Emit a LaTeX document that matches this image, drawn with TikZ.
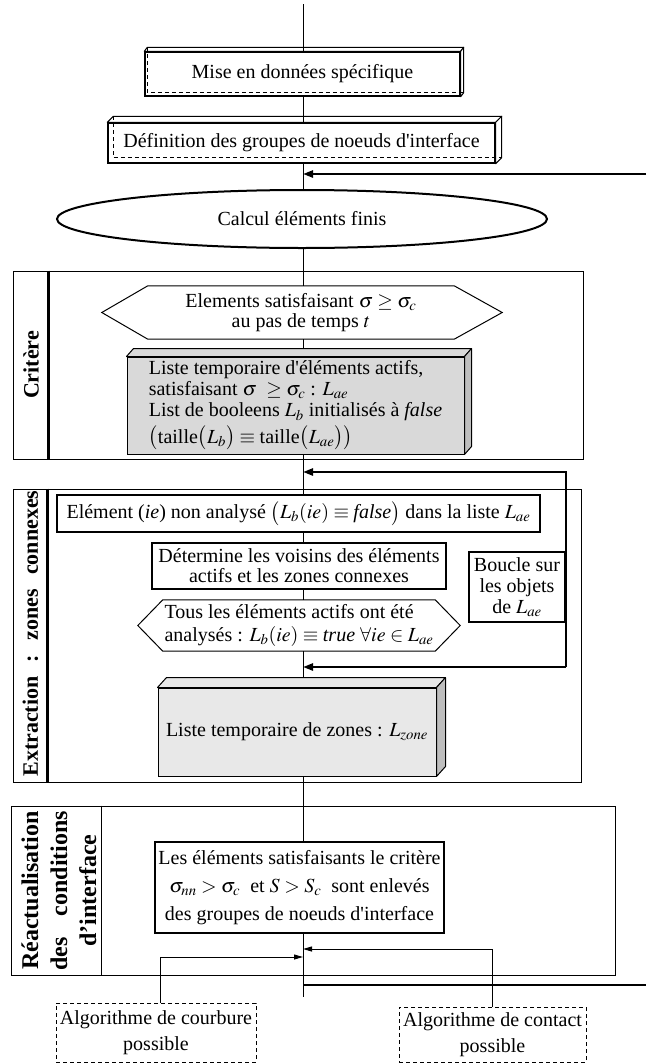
\documentclass[tikz,border=0pt]{standalone}
\usepackage{mathptmx}
\usepackage{fontspec}
\setmainfont{Liberation Serif}
\usetikzlibrary{shapes.geometric,arrows.meta}
\definecolor{grayA}{RGB}{217,217,217}
\definecolor{grayB}{RGB}{232,232,232}
\definecolor{graySide}{RGB}{190,190,190}
\tikzset{
 txt/.style={font=\fontsize{20}{20}\selectfont, inner sep=0pt, align=center},
 solidbox/.style={txt, draw, line width=1.3pt},
 whitebox/.style={txt, draw, line width=1.4pt, fill=white},
 graybox/.style={txt, draw, line width=1pt},
 framebox/.style={draw, line width=1pt, inner sep=0pt},
 sidelabel/.style={font=\fontsize{22}{29}\selectfont\bfseries, rotate=90, inner sep=0pt, align=center},
 thinline/.style={line width=1pt},
 thickline/.style={line width=2.4pt},
 tipthin/.style={-{Triangle[length=9pt,width=5pt]}},
 tipthick/.style={-{Triangle[length=10pt,width=7pt]}},
 dashbox/.style={txt, draw, line width=1pt, dash pattern=on 4pt off 3pt},
 hexnode/.style={txt},
}
\newcommand\depthfaces[5]{%
  \draw[line width=1pt, fill=#4, line join=round] (#1.north west) -- ([shift={(#2,-#3)}]#1.north west) -- ([shift={(#2,-#3)}]#1.north east) -- (#1.north east) -- cycle;
  \draw[line width=1pt, fill=#5, line join=round] (#1.north east) -- ([shift={(#2,-#3)}]#1.north east) -- ([shift={(#2,-#3)}]#1.south east) -- (#1.south east) -- cycle;
}
\newcommand\hiddenedges[3]{%
  \draw[line width=1pt, dash pattern=on 4pt off 3pt] ([shift={(#2,-#3)}]#1.north west) -- ([shift={(#2,-#3)}]#1.south west) -- ([shift={(#2,-#3)}]#1.south east);
}
\newcommand\hexoutline[3]{%
  \draw[line width=1pt] (#1.north west) -- (#1.north east) -- ([xshift=#3pt]#1.east) -- (#1.south east) -- (#1.south west) -- ([xshift=-#2pt]#1.west) -- cycle;
}
\begin{document}
\begin{tikzpicture}[x=1pt,y=-1pt]
\useasboundingbox (0,0) rectangle (646,1063);
\coordinate (top) at (303,4);

% frames
\node[framebox, minimum width=570pt, minimum height=188pt] (critF) at (298,365) {};
\draw[line width=2.2pt] ([xshift=36pt]critF.north west) -- ([xshift=36pt]critF.south west);
\node[framebox, minimum width=568pt, minimum height=293pt] (extrF) at (297,635.5) {};
\draw[line width=2.2pt] ([xshift=35pt]extrF.north west) -- ([xshift=35pt]extrF.south west);
\node[framebox, minimum width=604pt, minimum height=169pt] (reacF) at (313,890.5) {};
\draw[line width=1pt] ([xshift=91pt]reacF.north west) -- ([xshift=91pt]reacF.south west);

\node[sidelabel] (critL) at (31,365) {Critère};
\node[sidelabel] (extrL) at (30.5,633.5) {Extraction\hspace{0.65em}:\hspace{0.65em}zones\hspace{0.65em}connexes};
\node[sidelabel, font=\fontsize{24}{29}\selectfont\bfseries] (reacL) at (59,890.5) {Réactualisation\\des\hspace{21pt}conditions\\d’interface};

% top boxes
\node[whitebox, minimum width=315pt, minimum height=44pt] (box1) at (302.5,74) {Mise en données spécifique};
\depthfaces{box1}{3}{4}{white}{white}
\hiddenedges{box1}{3}{4}
\node[whitebox, minimum width=387pt, minimum height=40pt] (box2) at (301.5,143) {Définition des groupes de noeuds d\textquotesingle interface};
\depthfaces{box2}{6}{6}{white}{white}
\hiddenedges{box2}{6}{6}

\node[txt, draw, ellipse, line width=2pt, minimum width=490pt, minimum height=58pt] (ell) at (302,219) {Calcul éléments finis};

% critere
\node[hexnode, minimum width=306pt, minimum height=53pt] (hex1) at (301,312.5) {Elements satisfaisant $\sigma \geq \sigma_c$\\au pas de temps $t$};
\hexoutline{hex1}{46}{48}
\node[graybox, fill=grayA, align=left, minimum width=337pt, minimum height=97pt, font=\fontsize{20}{21}\selectfont] (gb1) at (295.5,405.5) {Liste temporaire d\textquotesingle éléments actifs,\\satisfaisant $\sigma\ \geq\sigma_c$ : $L_{ae}$\\List de booleens $L_b$ initialisés à \textit{false}\\[4pt]$\bigl(\mbox{taille}\bigl(L_b\bigr)\equiv\mbox{taille}\bigl(L_{ae}\bigr)\bigr)$};
\depthfaces{gb1}{7}{8}{grayA}{graySide}

% extraction
\node[solidbox, minimum width=483pt, minimum height=37pt] (elem) at (298.5,513.5) {Elément (\textit{ie}) non analysé $\bigl(L_b(ie)\equiv \textit{false}\bigr)$ dans la liste $L_{ae}$};
\node[solidbox, minimum width=294pt, minimum height=46pt] (det) at (299,566) {Détermine les voisins des éléments\\actifs et les zones connexes};
\node[txt, draw, line width=2.2pt, minimum width=96pt, minimum height=70pt, font=\fontsize{20}{21}\selectfont] (boucle) at (517,587) {Boucle sur\\les objets\\de $L_{ae}$};
\node[hexnode, align=left, minimum width=272pt, minimum height=51pt, font=\fontsize{20}{23}\selectfont] (hex2) at (299,625.5) {Tous les éléments actifs ont été\\analysés : $L_b(ie)\equiv \textit{true}\ \forall ie\in L_{ae}$};
\hexoutline{hex2}{25}{25}
\node[graybox, fill=grayB, minimum width=278pt, minimum height=88pt] (gb2) at (297,732) {Liste temporaire de zones : $L_{zone}$};
\depthfaces{gb2}{9}{10}{grayB}{graySide}

% reactualisation
\node[solidbox, font=\fontsize{20}{28}\selectfont, minimum width=289pt, minimum height=91pt] (les) at (299.5,887.5) {Les éléments satisfaisants le critère\\$\sigma_{nn}>\sigma_c$\ \ et $S>S_c$\ \ sont enlevés\\des groupes de noeuds d\textquotesingle interface};

\node[dashbox, font=\fontsize{20}{26}\selectfont, minimum width=200pt, minimum height=59pt] (curv) at (156,1032.5) {Algorithme de courbure\\possible};
\node[dashbox, font=\fontsize{20}{26}\selectfont, minimum width=187pt, minimum height=55pt] (cont) at (492.5,1034.5) {Algorithme de contact\\possible};

% main line
\draw[thinline] (top) -- (top |- box1.north);
\draw[thinline] (box1.south -| top) -- (box2.north -| top);
\draw[thinline] (box2.south -| top) -- (ell.north -| top);
\draw[thinline] (ell.south -| top) -- (hex1.north -| top);
\draw[thinline] (hex1.south -| top) -- ([yshift=8pt]gb1.north -| top);
\draw[thinline] (gb1.south -| top) -- (elem.north -| top);
\draw[thinline] (elem.south -| top) -- (det.north -| top);
\draw[thinline] (det.south -| top) -- (hex2.north -| top);
\draw[thinline] (hex2.south -| top) -- ([yshift=10pt]gb2.north -| top);
\draw[thinline] (gb2.south -| top) -- (les.north -| top);
\coordinate (bot) at (303,997);
\draw[thinline] (les.south -| top) -- (bot);

% thick arrows
\coordinate (rin) at (646,174);
\draw[thickline, tipthick] (rin) -- (rin -| top);
\coordinate (lt) at (566,472);
\coordinate (lb) at (566,667);
\draw[thickline, tipthick, line join=miter] (lb) -- (lt) -- (lt -| top);
\draw[thickline, tipthick] (lb) -- (lb -| top);
\coordinate (rout) at (646,985);
\draw[thickline] (top |- rout) -- (rout);

% bottom arrows
\coordinate (ca) at (160,957);
\coordinate (cb) at (492,949);
\draw[thinline, tipthin] (ca |- curv.north) -- (ca) -- (ca -| top);
\draw[thinline, tipthin] (cb |- cont.north) -- (cb) -- (cb -| top);
\end{tikzpicture}
\end{document}
